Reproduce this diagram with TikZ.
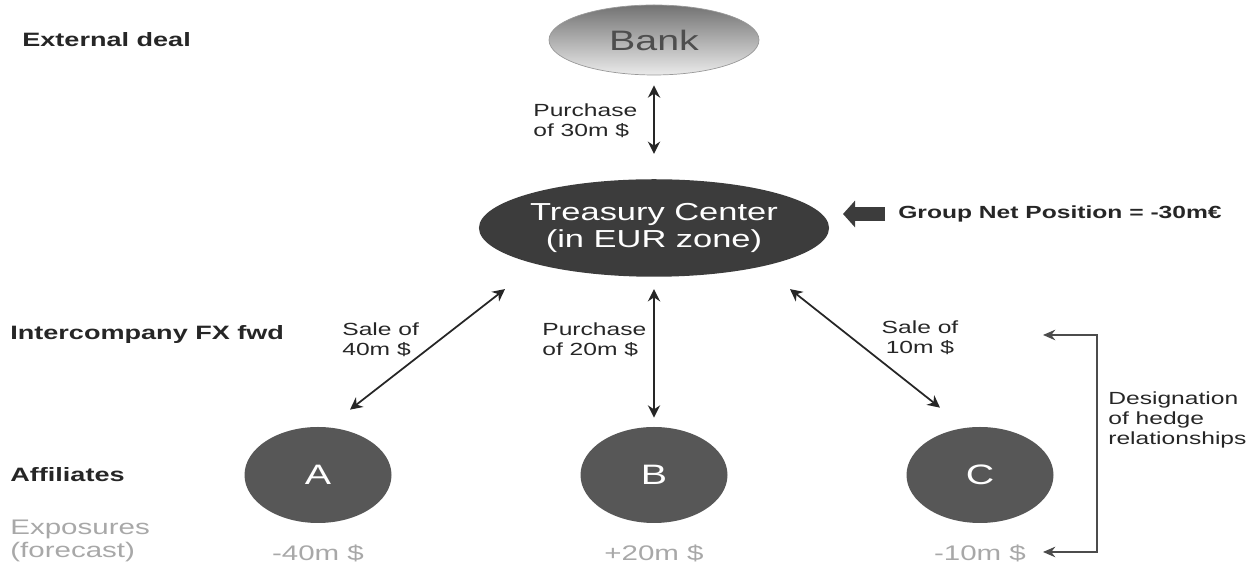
\documentclass[tikz,border=0pt]{standalone}
\usepackage{xcolor}
\usepackage{fontspec}
\setmainfont{Liberation Sans}[FakeStretch=1.4]
\usepackage{tikz}
\usetikzlibrary{arrows.meta, calc, positioning, shapes.geometric}
\definecolor{tcgray}{HTML}{3C3C3C}
\definecolor{affgray}{HTML}{575757}
\definecolor{labelgray}{HTML}{262626}
\definecolor{expgray}{HTML}{A8A8A8}
\definecolor{banktext}{HTML}{4E4E4E}

\begin{document}
\begin{tikzpicture}[
  bankell/.style = {ellipse, draw=black!40, top color=black!55, bottom color=black!8, minimum width=4.2cm, minimum height=1.4cm, text=banktext, font=\fontsize{16}{18}\selectfont},
  tcell/.style = {ellipse, fill=tcgray, inner sep=0pt, minimum width=7cm, minimum height=1.95cm, align=center, text=white, font=\fontsize{14}{15.5}\selectfont},
  affell/.style = {ellipse, fill=affgray, minimum width=2.94cm, minimum height=1.92cm, text=white, font=\fontsize{16}{18}\selectfont},
  rowlbl/.style = {anchor=west, inner sep=0pt, text=labelgray, font=\bfseries\fontsize{11}{13}\selectfont},
  explbl/.style = {inner sep=0pt, align=left, text=expgray, font=\fontsize{12}{13.5}\selectfont},
  deallbl/.style = {inner sep=0pt, align=left, text=labelgray, font=\fontsize{10}{11.5}\selectfont},
  blockarr/.style = {-{Triangle[length=0.24cm, width=0.52cm]}, line width=0.28cm, color=tcgray},
  dblarr/.style = {{Stealth[length=7pt,width=7pt]}-{Stealth[length=7pt,width=7pt]}, line width=1pt, color=black!85},
  hedgearr/.style = {{Stealth[length=7pt,width=6pt]}-{Stealth[length=7pt,width=6pt]}, line width=1pt, color=black!70},
]
\useasboundingbox (0,0) rectangle (24.96,11.32);

% row labels
\node[rowlbl] (extdeal) at (0.44, 10.52) {External deal};
\node[rowlbl] (icfx) at (0.2, 4.62) {Intercompany FX fwd};
\node[rowlbl] (aff) at (0.2, 1.82) {Affiliates};
\node[explbl, anchor=west] (expo) at (0.2, 0.5) {Exposures\\(forecast)};

% bank and treasury center
\node[bankell] (bank) at (13.08, 10.52) {Bank};
\node[tcell] (tc) at (13.08, 6.76) {Treasury Center\\(in EUR zone)};
\node[deallbl, anchor=west] (buy30) at (10.66, 8.9) {Purchase\\of 30m \$};
\node[deallbl, anchor=west, font=\bfseries\fontsize{10}{11.5}\selectfont] (gnp) at (17.96, 7.04) {Group Net Position = -30m€};
\coordinate (gnptip) at (16.86, 7.04);
\draw[blockarr, shorten <=0.26cm] (gnp.west) -- (gnptip);

% affiliates
\node[affell] (affa) at (6.36, 1.82) {A};
\node[affell] (affb) at (13.08, 1.82) {B};
\node[affell] (affc) at (19.6, 1.82) {C};
\node[explbl] (expa) at (6.36, 0.26) {-40m \$};
\node[explbl] (expb) at (13.08, 0.26) {+20m \$};
\node[explbl] (expc) at (19.6, 0.26) {-10m \$};

% intercompany deals
\node[deallbl, anchor=west] (sell40) at (6.84, 4.52) {Sale of\\40m \$};
\node[deallbl, anchor=west] (buy20) at (10.84, 4.52) {Purchase\\of 20m \$};
\node[deallbl, align=center] (sell10) at (18.4, 4.56) {Sale of\\10m \$};
\node[deallbl, anchor=west] (desig) at (22.16, 2.92) {Designation\\of hedge\\relationships};

\draw[dblarr, shorten <=0.2cm, shorten >=0.5cm] (bank.south) -- (tc.north);
\draw[dblarr] ($(affa.north)+(0.64,0.34)$) -- ($(tc.south)+(-2.98,-0.24)$);
\draw[dblarr, shorten <=0.24cm, shorten >=0.18cm] (tc.south) -- (affb.north);
\draw[dblarr] ($(tc.south)+(2.72,-0.24)$) -- ($(affc.north)+(-0.8,0.38)$);

% hedge designation bracket
\coordinate (hedgetop) at (20.86, 4.62);
\coordinate (hedgebot) at (20.86, 0.28);
\draw[hedgearr] (hedgetop) -- ++(1.08,0) |- (hedgebot);
\end{tikzpicture}
\end{document}
